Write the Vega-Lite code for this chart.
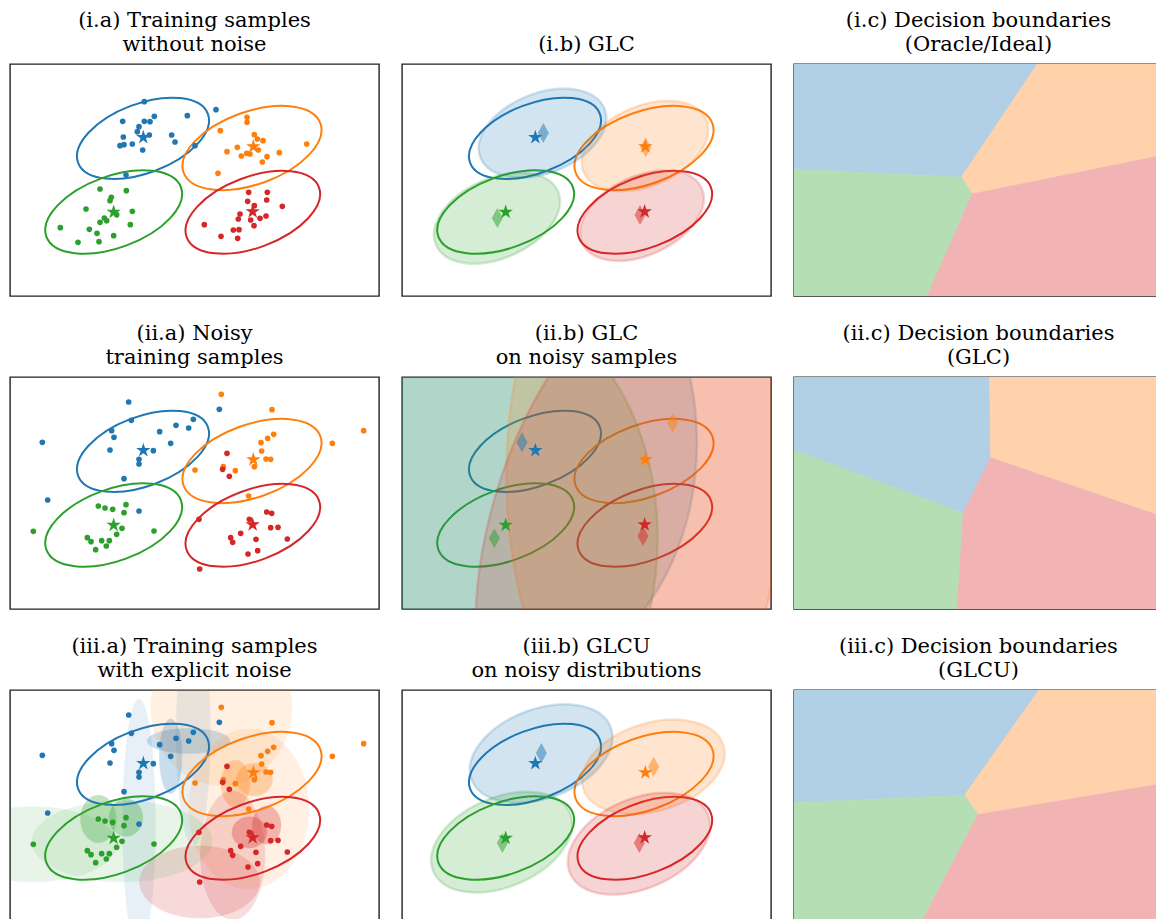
{
"$schema": "https://vega.github.io/schema/vega-lite/v6.json",
"padding": {"left": 9, "top": 9, "right": 0, "bottom": 0},
"columns": 3,
"spacing": {"row": 81, "column": 23},
"bounds": "flush",
"resolve": {"scale": {"color": "independent", "stroke": "independent", "size": "independent", "shape": "independent", "opacity": "independent", "angle": "independent", "x": "independent", "y": "independent"}},
"config": {
  "view": {"stroke": "#222222", "strokeWidth": 1.4, "fill": "white"},
  "title": {"font": "DejaVu Serif", "fontSize": 21, "fontWeight": "normal", "color": "#000000", "lineHeight": 24, "offset": 9, "anchor": "middle"},
  "legend": {"disable": true}
},
"datasets": {
  "truth": [
    {"cx": 3.99, "cy": 4.73, "a": 2.08, "shp": "r50", "ang": 20.7, "c": "1"},
    {"cx": 7.26, "cy": 4.44, "a": 2.18, "shp": "r50", "ang": 19.7, "c": "2"},
    {"cx": 3.11, "cy": 2.52, "a": 2.15, "shp": "r50", "ang": 20.1, "c": "3"},
    {"cx": 7.285, "cy": 2.51, "a": 2.12, "shp": "r50", "ang": 20.7, "c": "4"}
  ],
  "means": [
    {"x": 4.00, "y": 4.76, "c": "1"}, {"x": 7.30, "y": 4.48, "c": "2"}, {"x": 3.11, "y": 2.52, "c": "3"}, {"x": 7.28, "y": 2.53, "c": "4"}
  ],
  "est1": [
    {"cx": 4.215, "cy": 4.885, "a": 2.0, "shp": "r60", "ang": 21.4, "c": "1"},
    {"cx": 7.29, "cy": 4.50, "a": 2.0, "shp": "r60", "ang": 23.5, "c": "2"},
    {"cx": 2.85, "cy": 2.335, "a": 2.0, "shp": "r60", "ang": 24, "c": "3"},
    {"cx": 7.20, "cy": 2.41, "a": 1.97, "shp": "r60", "ang": 25, "c": "4"}
  ],
  "dia1": [
    {"x": 4.24, "y": 4.89, "c": "1"}, {"x": 7.31, "y": 4.46, "c": "2"}, {"x": 2.86, "y": 2.34, "c": "3"}, {"x": 7.14, "y": 2.43, "c": "4"}
  ],
  "est2": [
    {"cx": 3.60, "cy": 5.00, "a": 7.0, "shp": "r75", "ang": 90, "c": "1"},
    {"cx": 2.77, "cy": 2.12, "a": 7.0, "shp": "r70", "ang": 90, "c": "3"},
    {"cx": 7.28, "cy": 4.0, "a": 8.3, "shp": "r50", "ang": 90, "c": "2"},
    {"cx": 7.23, "cy": 2.19, "a": 8.35, "shp": "r55", "ang": 73, "c": "4"}
  ],
  "dia2": [
    {"x": 3.60, "y": 5.00, "c": "1"}, {"x": 8.12, "y": 5.59, "c": "2"}, {"x": 2.77, "y": 2.12, "c": "3"}, {"x": 7.23, "y": 2.19, "c": "4"}
  ],
  "est3": [
    {"cx": 4.175, "cy": 5.055, "a": 2.23, "shp": "r60", "ang": 20.5, "c": "1"},
    {"cx": 7.54, "cy": 4.655, "a": 2.2, "shp": "r60", "ang": 17, "c": "2"},
    {"cx": 2.99, "cy": 2.395, "a": 2.23, "shp": "r60", "ang": 23.2, "c": "3"},
    {"cx": 7.11, "cy": 2.35, "a": 2.25, "shp": "r60", "ang": 23.4, "c": "4"}
  ],
  "dia3": [
    {"x": 4.18, "y": 5.07, "c": "1"}, {"x": 7.55, "y": 4.66, "c": "2"}, {"x": 3.01, "y": 2.37, "c": "3"}, {"x": 7.12, "y": 2.37, "c": "4"}
  ],
  "noise": [
    {"cx": 3.87, "cy": 2.94, "a": 3.75, "shp": "r13", "ang": 90, "c": "1"},
    {"cx": 5.36, "cy": 5.43, "a": 1.24, "shp": "r30", "ang": 0, "c": "1"},
    {"cx": 4.82, "cy": 4.97, "a": 1.12, "shp": "r30", "ang": 90, "c": "1"},
    {"cx": 5.50, "cy": 5.69, "a": 3.4, "shp": "r15", "ang": 90, "c": "1"},
    {"cx": 6.34, "cy": 6.44, "a": 2.35, "shp": "r90", "ang": 90, "c": "2"},
    {"cx": 7.16, "cy": 3.39, "a": 2.4, "shp": "r75", "ang": 90, "c": "2"},
    {"cx": 7.33, "cy": 4.27, "a": 0.54, "shp": "r90", "ang": 0, "c": "2"},
    {"cx": 6.76, "cy": 4.15, "a": 0.71, "shp": "r60", "ang": 90, "c": "2"},
    {"cx": 7.18, "cy": 2.69, "a": 0.52, "shp": "r90", "ang": 0, "c": "4"},
    {"cx": 7.70, "cy": 2.91, "a": 0.57, "shp": "r75", "ang": 90, "c": "4"},
    {"cx": 5.69, "cy": 1.20, "a": 1.8, "shp": "r60", "ang": 0, "c": "4"},
    {"cx": 6.68, "cy": 2.00, "a": 1.93, "shp": "r50", "ang": 90, "c": "4"},
    {"cx": 0.70, "cy": 2.33, "a": 2.5, "shp": "r45", "ang": 0, "c": "3"},
    {"cx": 3.36, "cy": 2.42, "a": 2.7, "shp": "r45", "ang": 0, "c": "3"},
    {"cx": 2.65, "cy": 3.09, "a": 0.71, "shp": "r75", "ang": 90, "c": "3"},
    {"cx": 3.48, "cy": 3.13, "a": 0.56, "shp": "r90", "ang": 90, "c": "3"}
  ],
  "clean": [
    {"x": 4.03, "y": 5.83, "c": "1"}, {"x": 3.38, "y": 5.24, "c": "1"}, {"x": 4.03, "y": 5.24, "c": "1"}, {"x": 4.20, "y": 5.23, "c": "1"},
    {"x": 4.33, "y": 5.39, "c": "1"}, {"x": 5.32, "y": 5.41, "c": "1"}, {"x": 3.87, "y": 5.08, "c": "1"}, {"x": 3.82, "y": 4.93, "c": "1"},
    {"x": 3.40, "y": 4.77, "c": "1"}, {"x": 4.18, "y": 4.83, "c": "1"}, {"x": 4.85, "y": 4.83, "c": "1"}, {"x": 4.95, "y": 4.62, "c": "1"},
    {"x": 3.30, "y": 4.51, "c": "1"}, {"x": 3.42, "y": 4.54, "c": "1"}, {"x": 3.67, "y": 4.56, "c": "1"}, {"x": 3.98, "y": 4.38, "c": "1"},
    {"x": 5.55, "y": 4.51, "c": "1"}, {"x": 3.48, "y": 3.63, "c": "1"}, {"x": 6.18, "y": 5.59, "c": "1"},
    {"x": 7.11, "y": 5.36, "c": "2"}, {"x": 7.11, "y": 5.21, "c": "2"}, {"x": 6.31, "y": 4.96, "c": "2"}, {"x": 7.33, "y": 4.84, "c": "2"},
    {"x": 7.42, "y": 4.71, "c": "2"}, {"x": 7.59, "y": 4.66, "c": "2"}, {"x": 6.82, "y": 4.46, "c": "2"}, {"x": 6.51, "y": 4.33, "c": "2"},
    {"x": 8.90, "y": 4.56, "c": "2"}, {"x": 8.08, "y": 4.30, "c": "2"}, {"x": 7.71, "y": 4.18, "c": "2"}, {"x": 7.57, "y": 4.02, "c": "2"},
    {"x": 6.94, "y": 4.20, "c": "2"}, {"x": 7.10, "y": 4.28, "c": "2"}, {"x": 7.20, "y": 4.26, "c": "2"}, {"x": 7.45, "y": 4.38, "c": "2"},
    {"x": 6.24, "y": 3.68, "c": "2"},
    {"x": 2.70, "y": 3.21, "c": "3"}, {"x": 3.49, "y": 3.16, "c": "3"}, {"x": 3.04, "y": 2.96, "c": "3"}, {"x": 3.00, "y": 2.86, "c": "3"},
    {"x": 2.28, "y": 2.61, "c": "3"}, {"x": 3.67, "y": 2.54, "c": "3"}, {"x": 3.20, "y": 2.44, "c": "3"}, {"x": 2.70, "y": 2.21, "c": "3"},
    {"x": 2.83, "y": 2.34, "c": "3"}, {"x": 2.90, "y": 2.26, "c": "3"}, {"x": 1.51, "y": 2.05, "c": "3"}, {"x": 2.38, "y": 2.00, "c": "3"},
    {"x": 2.61, "y": 1.88, "c": "3"}, {"x": 3.61, "y": 2.14, "c": "3"}, {"x": 3.11, "y": 1.81, "c": "3"}, {"x": 2.04, "y": 1.61, "c": "3"},
    {"x": 2.67, "y": 1.63, "c": "3"},
    {"x": 7.16, "y": 3.11, "c": "4"}, {"x": 7.72, "y": 3.11, "c": "4"}, {"x": 7.13, "y": 2.84, "c": "4"}, {"x": 7.70, "y": 2.88, "c": "4"},
    {"x": 7.33, "y": 2.71, "c": "4"}, {"x": 8.17, "y": 2.69, "c": "4"}, {"x": 6.90, "y": 2.46, "c": "4"}, {"x": 6.85, "y": 2.31, "c": "4"},
    {"x": 7.68, "y": 2.40, "c": "4"}, {"x": 7.50, "y": 2.33, "c": "4"}, {"x": 7.22, "y": 2.28, "c": "4"}, {"x": 7.32, "y": 2.11, "c": "4"},
    {"x": 5.83, "y": 2.14, "c": "4"}, {"x": 6.70, "y": 1.98, "c": "4"}, {"x": 6.87, "y": 1.99, "c": "4"}, {"x": 6.83, "y": 1.73, "c": "4"},
    {"x": 6.33, "y": 1.79, "c": "4"}
  ],
  "noisy": [
    {"x": 3.56, "y": 6.21, "c": "1"}, {"x": 6.28, "y": 5.99, "c": "1"}, {"x": 5.50, "y": 5.69, "c": "1"}, {"x": 4.98, "y": 5.51, "c": "1"},
    {"x": 5.36, "y": 5.43, "c": "1"}, {"x": 3.64, "y": 5.66, "c": "1"}, {"x": 3.05, "y": 5.35, "c": "1"}, {"x": 3.12, "y": 5.15, "c": "1"},
    {"x": 4.49, "y": 5.32, "c": "1"}, {"x": 4.82, "y": 4.97, "c": "1"}, {"x": 0.97, "y": 5.00, "c": "1"}, {"x": 3.00, "y": 4.77, "c": "1"},
    {"x": 4.30, "y": 4.75, "c": "1"}, {"x": 3.87, "y": 4.49, "c": "1"}, {"x": 3.87, "y": 4.35, "c": "1"}, {"x": 3.42, "y": 3.91, "c": "1"},
    {"x": 1.13, "y": 3.27, "c": "1"}, {"x": 3.87, "y": 2.94, "c": "1"},
    {"x": 6.34, "y": 6.44, "c": "2"}, {"x": 7.86, "y": 5.98, "c": "2"}, {"x": 7.91, "y": 5.24, "c": "2"}, {"x": 7.73, "y": 5.12, "c": "2"},
    {"x": 7.53, "y": 4.99, "c": "2"}, {"x": 7.55, "y": 4.74, "c": "2"}, {"x": 10.61, "y": 5.35, "c": "2"}, {"x": 9.67, "y": 4.97, "c": "2"},
    {"x": 7.68, "y": 4.50, "c": "2"}, {"x": 7.82, "y": 4.49, "c": "2"}, {"x": 7.33, "y": 4.27, "c": "2"}, {"x": 6.76, "y": 4.15, "c": "2"},
    {"x": 5.55, "y": 4.17, "c": "2"}, {"x": 6.40, "y": 4.27, "c": "2"}, {"x": 7.16, "y": 3.39, "c": "2"},
    {"x": 6.51, "y": 4.67, "c": "4"}, {"x": 6.38, "y": 4.19, "c": "4"}, {"x": 6.58, "y": 3.98, "c": "4"}, {"x": 7.70, "y": 2.91, "c": "4"},
    {"x": 7.85, "y": 2.87, "c": "4"}, {"x": 7.18, "y": 2.69, "c": "4"}, {"x": 5.67, "y": 2.69, "c": "4"}, {"x": 7.82, "y": 2.44, "c": "4"},
    {"x": 8.04, "y": 2.45, "c": "4"}, {"x": 6.92, "y": 2.27, "c": "4"}, {"x": 6.62, "y": 2.14, "c": "4"}, {"x": 6.68, "y": 2.00, "c": "4"},
    {"x": 7.38, "y": 2.09, "c": "4"}, {"x": 8.32, "y": 2.10, "c": "4"}, {"x": 7.43, "y": 1.75, "c": "4"}, {"x": 7.14, "y": 1.65, "c": "4"},
    {"x": 5.69, "y": 1.20, "c": "4"},
    {"x": 2.65, "y": 3.09, "c": "3"}, {"x": 2.85, "y": 3.03, "c": "3"}, {"x": 3.08, "y": 2.99, "c": "3"}, {"x": 3.48, "y": 3.13, "c": "3"},
    {"x": 3.42, "y": 2.89, "c": "3"}, {"x": 3.36, "y": 2.42, "c": "3"}, {"x": 3.20, "y": 2.24, "c": "3"}, {"x": 0.70, "y": 2.33, "c": "3"},
    {"x": 4.32, "y": 2.34, "c": "3"}, {"x": 2.32, "y": 2.14, "c": "3"}, {"x": 2.43, "y": 2.02, "c": "3"}, {"x": 2.75, "y": 2.05, "c": "3"},
    {"x": 2.98, "y": 2.05, "c": "3"}, {"x": 2.89, "y": 1.89, "c": "3"}, {"x": 2.57, "y": 1.78, "c": "3"}
  ],
  "reg1": [
    {"r": "1", "x": 0, "lo": 3.81, "hi": 6.96}, {"r": "1", "x": 5.02, "lo": 3.56, "hi": 6.96}, {"r": "1", "x": 7.30, "lo": 6.96, "hi": 6.96},
    {"r": "2", "x": 5.02, "lo": 3.56, "hi": 3.56}, {"r": "2", "x": 5.35, "lo": 3.06, "hi": 4.05}, {"r": "2", "x": 7.30, "lo": 3.455, "hi": 6.96}, {"r": "2", "x": 11.07, "lo": 4.22, "hi": 6.96},
    {"r": "3", "x": 0, "lo": 0, "hi": 3.81}, {"r": "3", "x": 4.00, "lo": 0, "hi": 3.61}, {"r": "3", "x": 5.02, "lo": 2.31, "hi": 3.56}, {"r": "3", "x": 5.35, "lo": 3.06, "hi": 3.06},
    {"r": "4", "x": 4.00, "lo": 0, "hi": 0}, {"r": "4", "x": 5.35, "lo": 0, "hi": 3.06}, {"r": "4", "x": 11.07, "lo": 0, "hi": 4.22}
  ],
  "reg2": [
    {"r": "1", "x": 0, "lo": 4.77, "hi": 6.96}, {"r": "1", "x": 5.08, "lo": 2.87, "hi": 6.96}, {"r": "1", "x": 5.87, "lo": 4.48, "hi": 6.96}, {"r": "1", "x": 5.90, "lo": 4.54, "hi": 4.54},
    {"r": "2", "x": 5.87, "lo": 6.96, "hi": 6.96}, {"r": "2", "x": 5.90, "lo": 4.54, "hi": 6.96}, {"r": "2", "x": 11.07, "lo": 2.76, "hi": 6.96},
    {"r": "3", "x": 0, "lo": 0, "hi": 4.77}, {"r": "3", "x": 4.90, "lo": 0, "hi": 2.94}, {"r": "3", "x": 5.08, "lo": 2.87, "hi": 2.87},
    {"r": "4", "x": 4.90, "lo": 0, "hi": 0}, {"r": "4", "x": 5.08, "lo": 0, "hi": 2.87}, {"r": "4", "x": 5.90, "lo": 0, "hi": 4.54}, {"r": "4", "x": 11.07, "lo": 0, "hi": 2.76}
  ],
  "reg3": [
    {"r": "1", "x": 0, "lo": 3.58, "hi": 6.96}, {"r": "1", "x": 5.12, "lo": 3.80, "hi": 6.96}, {"r": "1", "x": 7.35, "lo": 6.96, "hi": 6.96},
    {"r": "2", "x": 5.12, "lo": 3.80, "hi": 3.80}, {"r": "2", "x": 5.52, "lo": 3.22, "hi": 4.37}, {"r": "2", "x": 7.35, "lo": 3.53, "hi": 6.96}, {"r": "2", "x": 11.07, "lo": 4.15, "hi": 6.96},
    {"r": "3", "x": 0, "lo": 0, "hi": 3.58}, {"r": "3", "x": 3.83, "lo": 0, "hi": 3.745}, {"r": "3", "x": 5.12, "lo": 2.46, "hi": 3.80}, {"r": "3", "x": 5.52, "lo": 3.22, "hi": 3.22},
    {"r": "4", "x": 3.83, "lo": 0, "hi": 0}, {"r": "4", "x": 5.52, "lo": 0, "hi": 3.22}, {"r": "4", "x": 11.07, "lo": 0, "hi": 4.15}
  ]
},
"concat": [
  {
    "title": {"text": ["(i.a) Training samples", "without noise"]},
    "width": 369, "height": 232,
    "layer": [
      {"data": {"name": "truth"}, "mark": {"type": "point", "filled": false, "strokeWidth": 2, "opacity": 1, "clip": true},
       "encoding": {
        "x": {"field": "cx", "type": "quantitative", "scale": {"domain": [0, 11.07], "nice": false, "zero": false}, "axis": null},
        "y": {"field": "cy", "type": "quantitative", "scale": {"domain": [0, 6.96], "nice": false, "zero": false}, "axis": null},
        "size": {"field": "a", "type": "quantitative", "scale": {"type": "pow", "exponent": 2, "domain": [0, 1], "range": [0, 4444.4], "clamp": false}, "legend": null},
        "shape": {"field": "shp", "type": "nominal", "legend": null, "scale": {"domain": ["r13","r15","r30","r45","r50","r55","r60","r70","r75","r90"], "range": ["M-1,0C-1,-0.0718,-0.5523,-0.13,0,-0.13C0.5523,-0.13,1,-0.0718,1,0C1,0.0718,0.5523,0.13,0,0.13C-0.5523,0.13,-1,0.0718,-1,0Z","M-1,0C-1,-0.0828,-0.5523,-0.15,0,-0.15C0.5523,-0.15,1,-0.0828,1,0C1,0.0828,0.5523,0.15,0,0.15C-0.5523,0.15,-1,0.0828,-1,0Z","M-1,0C-1,-0.1657,-0.5523,-0.3,0,-0.3C0.5523,-0.3,1,-0.1657,1,0C1,0.1657,0.5523,0.3,0,0.3C-0.5523,0.3,-1,0.1657,-1,0Z","M-1,0C-1,-0.2485,-0.5523,-0.45,0,-0.45C0.5523,-0.45,1,-0.2485,1,0C1,0.2485,0.5523,0.45,0,0.45C-0.5523,0.45,-1,0.2485,-1,0Z","M-1,0C-1,-0.2762,-0.5523,-0.5,0,-0.5C0.5523,-0.5,1,-0.2762,1,0C1,0.2762,0.5523,0.5,0,0.5C-0.5523,0.5,-1,0.2762,-1,0Z","M-1,0C-1,-0.3038,-0.5523,-0.55,0,-0.55C0.5523,-0.55,1,-0.3038,1,0C1,0.3038,0.5523,0.55,0,0.55C-0.5523,0.55,-1,0.3038,-1,0Z","M-1,0C-1,-0.3314,-0.5523,-0.6,0,-0.6C0.5523,-0.6,1,-0.3314,1,0C1,0.3314,0.5523,0.6,0,0.6C-0.5523,0.6,-1,0.3314,-1,0Z","M-1,0C-1,-0.3866,-0.5523,-0.7,0,-0.7C0.5523,-0.7,1,-0.3866,1,0C1,0.3866,0.5523,0.7,0,0.7C-0.5523,0.7,-1,0.3866,-1,0Z","M-1,0C-1,-0.4142,-0.5523,-0.75,0,-0.75C0.5523,-0.75,1,-0.4142,1,0C1,0.4142,0.5523,0.75,0,0.75C-0.5523,0.75,-1,0.4142,-1,0Z","M-1,0C-1,-0.4971,-0.5523,-0.9,0,-0.9C0.5523,-0.9,1,-0.4971,1,0C1,0.4971,0.5523,0.9,0,0.9C-0.5523,0.9,-1,0.4971,-1,0Z"]}},
        "angle": {"field": "ang", "type": "quantitative", "scale": {"domain": [-180, 180], "range": [180, -180]}},
        "color": {"field": "c", "type": "nominal", "legend": null, "scale": {"domain": ["1","2","3","4"], "range": ["#1f77b4","#ff7f0e","#2ca02c","#d62728"]}}
       }},
      {"data": {"name": "clean"}, "mark": {"type": "circle", "size": 32, "opacity": 1},
       "encoding": {
        "x": {"field": "x", "type": "quantitative", "scale": {"domain": [0, 11.07], "nice": false, "zero": false}, "axis": null},
        "y": {"field": "y", "type": "quantitative", "scale": {"domain": [0, 6.96], "nice": false, "zero": false}, "axis": null},
        "color": {"field": "c", "type": "nominal", "legend": null, "scale": {"domain": ["1","2","3","4"], "range": ["#1f77b4","#ff7f0e","#2ca02c","#d62728"]}}
       }},
      {"data": {"name": "means"}, "mark": {"type": "point", "shape": "M0,-1L0.2245,-0.309L0.951,-0.309L0.363,0.118L0.588,0.809L0,0.382L-0.588,0.809L-0.363,0.118L-0.951,-0.309L-0.2245,-0.309Z", "filled": true, "size": 230, "opacity": 1, "strokeWidth": 0},
       "encoding": {
        "x": {"field": "x", "type": "quantitative", "scale": {"domain": [0, 11.07], "nice": false, "zero": false}, "axis": null},
        "y": {"field": "y", "type": "quantitative", "scale": {"domain": [0, 6.96], "nice": false, "zero": false}, "axis": null},
        "color": {"field": "c", "type": "nominal", "legend": null, "scale": {"domain": ["1","2","3","4"], "range": ["#1f77b4","#ff7f0e","#2ca02c","#d62728"]}}
       }}
    ]
  },
  {
    "title": {"text": "(i.b) GLC"},
    "width": 369, "height": 232,
    "layer": [
      {"data": {"name": "truth"}, "mark": {"type": "point", "filled": false, "strokeWidth": 2, "opacity": 1, "clip": true},
       "encoding": {
        "x": {"field": "cx", "type": "quantitative", "scale": {"domain": [0, 11.07], "nice": false, "zero": false}, "axis": null},
        "y": {"field": "cy", "type": "quantitative", "scale": {"domain": [0, 6.96], "nice": false, "zero": false}, "axis": null},
        "size": {"field": "a", "type": "quantitative", "scale": {"type": "pow", "exponent": 2, "domain": [0, 1], "range": [0, 4444.4], "clamp": false}, "legend": null},
        "shape": {"field": "shp", "type": "nominal", "legend": null, "scale": {"domain": ["r13","r15","r30","r45","r50","r55","r60","r70","r75","r90"], "range": ["M-1,0C-1,-0.0718,-0.5523,-0.13,0,-0.13C0.5523,-0.13,1,-0.0718,1,0C1,0.0718,0.5523,0.13,0,0.13C-0.5523,0.13,-1,0.0718,-1,0Z","M-1,0C-1,-0.0828,-0.5523,-0.15,0,-0.15C0.5523,-0.15,1,-0.0828,1,0C1,0.0828,0.5523,0.15,0,0.15C-0.5523,0.15,-1,0.0828,-1,0Z","M-1,0C-1,-0.1657,-0.5523,-0.3,0,-0.3C0.5523,-0.3,1,-0.1657,1,0C1,0.1657,0.5523,0.3,0,0.3C-0.5523,0.3,-1,0.1657,-1,0Z","M-1,0C-1,-0.2485,-0.5523,-0.45,0,-0.45C0.5523,-0.45,1,-0.2485,1,0C1,0.2485,0.5523,0.45,0,0.45C-0.5523,0.45,-1,0.2485,-1,0Z","M-1,0C-1,-0.2762,-0.5523,-0.5,0,-0.5C0.5523,-0.5,1,-0.2762,1,0C1,0.2762,0.5523,0.5,0,0.5C-0.5523,0.5,-1,0.2762,-1,0Z","M-1,0C-1,-0.3038,-0.5523,-0.55,0,-0.55C0.5523,-0.55,1,-0.3038,1,0C1,0.3038,0.5523,0.55,0,0.55C-0.5523,0.55,-1,0.3038,-1,0Z","M-1,0C-1,-0.3314,-0.5523,-0.6,0,-0.6C0.5523,-0.6,1,-0.3314,1,0C1,0.3314,0.5523,0.6,0,0.6C-0.5523,0.6,-1,0.3314,-1,0Z","M-1,0C-1,-0.3866,-0.5523,-0.7,0,-0.7C0.5523,-0.7,1,-0.3866,1,0C1,0.3866,0.5523,0.7,0,0.7C-0.5523,0.7,-1,0.3866,-1,0Z","M-1,0C-1,-0.4142,-0.5523,-0.75,0,-0.75C0.5523,-0.75,1,-0.4142,1,0C1,0.4142,0.5523,0.75,0,0.75C-0.5523,0.75,-1,0.4142,-1,0Z","M-1,0C-1,-0.4971,-0.5523,-0.9,0,-0.9C0.5523,-0.9,1,-0.4971,1,0C1,0.4971,0.5523,0.9,0,0.9C-0.5523,0.9,-1,0.4971,-1,0Z"]}},
        "angle": {"field": "ang", "type": "quantitative", "scale": {"domain": [-180, 180], "range": [180, -180]}},
        "color": {"field": "c", "type": "nominal", "legend": null, "scale": {"domain": ["1","2","3","4"], "range": ["#1f77b4","#ff7f0e","#2ca02c","#d62728"]}}
       }},
      {"data": {"name": "est1"}, "mark": {"type": "point", "filled": true, "opacity": 1, "fillOpacity": 0.2, "strokeOpacity": 0.2, "strokeWidth": 2.5, "clip": true},
       "encoding": {
        "x": {"field": "cx", "type": "quantitative", "scale": {"domain": [0, 11.07], "nice": false, "zero": false}, "axis": null},
        "y": {"field": "cy", "type": "quantitative", "scale": {"domain": [0, 6.96], "nice": false, "zero": false}, "axis": null},
        "size": {"field": "a", "type": "quantitative", "scale": {"type": "pow", "exponent": 2, "domain": [0, 1], "range": [0, 4444.4], "clamp": false}, "legend": null},
        "shape": {"field": "shp", "type": "nominal", "legend": null, "scale": {"domain": ["r13","r15","r30","r45","r50","r55","r60","r70","r75","r90"], "range": ["M-1,0C-1,-0.0718,-0.5523,-0.13,0,-0.13C0.5523,-0.13,1,-0.0718,1,0C1,0.0718,0.5523,0.13,0,0.13C-0.5523,0.13,-1,0.0718,-1,0Z","M-1,0C-1,-0.0828,-0.5523,-0.15,0,-0.15C0.5523,-0.15,1,-0.0828,1,0C1,0.0828,0.5523,0.15,0,0.15C-0.5523,0.15,-1,0.0828,-1,0Z","M-1,0C-1,-0.1657,-0.5523,-0.3,0,-0.3C0.5523,-0.3,1,-0.1657,1,0C1,0.1657,0.5523,0.3,0,0.3C-0.5523,0.3,-1,0.1657,-1,0Z","M-1,0C-1,-0.2485,-0.5523,-0.45,0,-0.45C0.5523,-0.45,1,-0.2485,1,0C1,0.2485,0.5523,0.45,0,0.45C-0.5523,0.45,-1,0.2485,-1,0Z","M-1,0C-1,-0.2762,-0.5523,-0.5,0,-0.5C0.5523,-0.5,1,-0.2762,1,0C1,0.2762,0.5523,0.5,0,0.5C-0.5523,0.5,-1,0.2762,-1,0Z","M-1,0C-1,-0.3038,-0.5523,-0.55,0,-0.55C0.5523,-0.55,1,-0.3038,1,0C1,0.3038,0.5523,0.55,0,0.55C-0.5523,0.55,-1,0.3038,-1,0Z","M-1,0C-1,-0.3314,-0.5523,-0.6,0,-0.6C0.5523,-0.6,1,-0.3314,1,0C1,0.3314,0.5523,0.6,0,0.6C-0.5523,0.6,-1,0.3314,-1,0Z","M-1,0C-1,-0.3866,-0.5523,-0.7,0,-0.7C0.5523,-0.7,1,-0.3866,1,0C1,0.3866,0.5523,0.7,0,0.7C-0.5523,0.7,-1,0.3866,-1,0Z","M-1,0C-1,-0.4142,-0.5523,-0.75,0,-0.75C0.5523,-0.75,1,-0.4142,1,0C1,0.4142,0.5523,0.75,0,0.75C-0.5523,0.75,-1,0.4142,-1,0Z","M-1,0C-1,-0.4971,-0.5523,-0.9,0,-0.9C0.5523,-0.9,1,-0.4971,1,0C1,0.4971,0.5523,0.9,0,0.9C-0.5523,0.9,-1,0.4971,-1,0Z"]}},
        "angle": {"field": "ang", "type": "quantitative", "scale": {"domain": [-180, 180], "range": [180, -180]}},
        "color": {"field": "c", "type": "nominal", "legend": null, "scale": {"domain": ["1","2","3","4"], "range": ["#1f77b4","#ff7f0e","#2ca02c","#d62728"]}},
        "stroke": {"field": "c", "type": "nominal", "legend": null, "scale": {"domain": ["1","2","3","4"], "range": ["#1f77b4","#ff7f0e","#2ca02c","#d62728"]}}
       }},
      {"data": {"name": "dia1"}, "mark": {"type": "point", "shape": "M0,-1L0.55,0L0,1L-0.55,0Z", "filled": true, "size": 400, "opacity": 0.5},
       "encoding": {
        "x": {"field": "x", "type": "quantitative", "scale": {"domain": [0, 11.07], "nice": false, "zero": false}, "axis": null},
        "y": {"field": "y", "type": "quantitative", "scale": {"domain": [0, 6.96], "nice": false, "zero": false}, "axis": null},
        "color": {"field": "c", "type": "nominal", "legend": null, "scale": {"domain": ["1","2","3","4"], "range": ["#1f77b4","#ff7f0e","#2ca02c","#d62728"]}}
       }},
      {"data": {"name": "means"}, "mark": {"type": "point", "shape": "M0,-1L0.2245,-0.309L0.951,-0.309L0.363,0.118L0.588,0.809L0,0.382L-0.588,0.809L-0.363,0.118L-0.951,-0.309L-0.2245,-0.309Z", "filled": true, "size": 230, "opacity": 1, "strokeWidth": 0},
       "encoding": {
        "x": {"field": "x", "type": "quantitative", "scale": {"domain": [0, 11.07], "nice": false, "zero": false}, "axis": null},
        "y": {"field": "y", "type": "quantitative", "scale": {"domain": [0, 6.96], "nice": false, "zero": false}, "axis": null},
        "color": {"field": "c", "type": "nominal", "legend": null, "scale": {"domain": ["1","2","3","4"], "range": ["#1f77b4","#ff7f0e","#2ca02c","#d62728"]}}
       }}
    ]
  },
  {
    "title": {"text": ["(i.c) Decision boundaries", "(Oracle/Ideal)"]},
    "width": 369, "height": 232,
    "layer": [
      {"data": {"name": "reg1"}, "mark": {"type": "area", "opacity": 1, "strokeWidth": 0.8, "clip": true},
       "encoding": {
        "x": {"field": "x", "type": "quantitative", "scale": {"domain": [0, 11.07], "nice": false, "zero": false}, "axis": null},
        "y": {"field": "lo", "type": "quantitative", "stack": null, "scale": {"domain": [0, 6.96], "nice": false, "zero": false}, "axis": null},
        "y2": {"field": "hi"},
        "color": {"field": "r", "type": "nominal", "legend": null, "scale": {"domain": ["1","2","3","4"], "range": ["#b1cfe5","#ffd2ab","#b5deb5","#f1b3b4"]}},
        "stroke": {"field": "r", "type": "nominal", "legend": null, "scale": {"domain": ["1","2","3","4"], "range": ["#b1cfe5","#ffd2ab","#b5deb5","#f1b3b4"]}}
       }}
    ]
  },
  {
    "title": {"text": ["(ii.a) Noisy", "training samples"]},
    "width": 369, "height": 232,
    "layer": [
      {"data": {"name": "truth"}, "mark": {"type": "point", "filled": false, "strokeWidth": 2, "opacity": 1, "clip": true},
       "encoding": {
        "x": {"field": "cx", "type": "quantitative", "scale": {"domain": [0, 11.07], "nice": false, "zero": false}, "axis": null},
        "y": {"field": "cy", "type": "quantitative", "scale": {"domain": [0, 6.96], "nice": false, "zero": false}, "axis": null},
        "size": {"field": "a", "type": "quantitative", "scale": {"type": "pow", "exponent": 2, "domain": [0, 1], "range": [0, 4444.4], "clamp": false}, "legend": null},
        "shape": {"field": "shp", "type": "nominal", "legend": null, "scale": {"domain": ["r13","r15","r30","r45","r50","r55","r60","r70","r75","r90"], "range": ["M-1,0C-1,-0.0718,-0.5523,-0.13,0,-0.13C0.5523,-0.13,1,-0.0718,1,0C1,0.0718,0.5523,0.13,0,0.13C-0.5523,0.13,-1,0.0718,-1,0Z","M-1,0C-1,-0.0828,-0.5523,-0.15,0,-0.15C0.5523,-0.15,1,-0.0828,1,0C1,0.0828,0.5523,0.15,0,0.15C-0.5523,0.15,-1,0.0828,-1,0Z","M-1,0C-1,-0.1657,-0.5523,-0.3,0,-0.3C0.5523,-0.3,1,-0.1657,1,0C1,0.1657,0.5523,0.3,0,0.3C-0.5523,0.3,-1,0.1657,-1,0Z","M-1,0C-1,-0.2485,-0.5523,-0.45,0,-0.45C0.5523,-0.45,1,-0.2485,1,0C1,0.2485,0.5523,0.45,0,0.45C-0.5523,0.45,-1,0.2485,-1,0Z","M-1,0C-1,-0.2762,-0.5523,-0.5,0,-0.5C0.5523,-0.5,1,-0.2762,1,0C1,0.2762,0.5523,0.5,0,0.5C-0.5523,0.5,-1,0.2762,-1,0Z","M-1,0C-1,-0.3038,-0.5523,-0.55,0,-0.55C0.5523,-0.55,1,-0.3038,1,0C1,0.3038,0.5523,0.55,0,0.55C-0.5523,0.55,-1,0.3038,-1,0Z","M-1,0C-1,-0.3314,-0.5523,-0.6,0,-0.6C0.5523,-0.6,1,-0.3314,1,0C1,0.3314,0.5523,0.6,0,0.6C-0.5523,0.6,-1,0.3314,-1,0Z","M-1,0C-1,-0.3866,-0.5523,-0.7,0,-0.7C0.5523,-0.7,1,-0.3866,1,0C1,0.3866,0.5523,0.7,0,0.7C-0.5523,0.7,-1,0.3866,-1,0Z","M-1,0C-1,-0.4142,-0.5523,-0.75,0,-0.75C0.5523,-0.75,1,-0.4142,1,0C1,0.4142,0.5523,0.75,0,0.75C-0.5523,0.75,-1,0.4142,-1,0Z","M-1,0C-1,-0.4971,-0.5523,-0.9,0,-0.9C0.5523,-0.9,1,-0.4971,1,0C1,0.4971,0.5523,0.9,0,0.9C-0.5523,0.9,-1,0.4971,-1,0Z"]}},
        "angle": {"field": "ang", "type": "quantitative", "scale": {"domain": [-180, 180], "range": [180, -180]}},
        "color": {"field": "c", "type": "nominal", "legend": null, "scale": {"domain": ["1","2","3","4"], "range": ["#1f77b4","#ff7f0e","#2ca02c","#d62728"]}}
       }},
      {"data": {"name": "noisy"}, "mark": {"type": "circle", "size": 32, "opacity": 1},
       "encoding": {
        "x": {"field": "x", "type": "quantitative", "scale": {"domain": [0, 11.07], "nice": false, "zero": false}, "axis": null},
        "y": {"field": "y", "type": "quantitative", "scale": {"domain": [0, 6.96], "nice": false, "zero": false}, "axis": null},
        "color": {"field": "c", "type": "nominal", "legend": null, "scale": {"domain": ["1","2","3","4"], "range": ["#1f77b4","#ff7f0e","#2ca02c","#d62728"]}}
       }},
      {"data": {"name": "means"}, "mark": {"type": "point", "shape": "M0,-1L0.2245,-0.309L0.951,-0.309L0.363,0.118L0.588,0.809L0,0.382L-0.588,0.809L-0.363,0.118L-0.951,-0.309L-0.2245,-0.309Z", "filled": true, "size": 230, "opacity": 1, "strokeWidth": 0},
       "encoding": {
        "x": {"field": "x", "type": "quantitative", "scale": {"domain": [0, 11.07], "nice": false, "zero": false}, "axis": null},
        "y": {"field": "y", "type": "quantitative", "scale": {"domain": [0, 6.96], "nice": false, "zero": false}, "axis": null},
        "color": {"field": "c", "type": "nominal", "legend": null, "scale": {"domain": ["1","2","3","4"], "range": ["#1f77b4","#ff7f0e","#2ca02c","#d62728"]}}
       }}
    ]
  },
  {
    "title": {"text": ["(ii.b) GLC", "on noisy samples"]},
    "width": 369, "height": 232,
    "layer": [
      {"data": {"name": "truth"}, "mark": {"type": "point", "filled": false, "strokeWidth": 2, "opacity": 1, "clip": true},
       "encoding": {
        "x": {"field": "cx", "type": "quantitative", "scale": {"domain": [0, 11.07], "nice": false, "zero": false}, "axis": null},
        "y": {"field": "cy", "type": "quantitative", "scale": {"domain": [0, 6.96], "nice": false, "zero": false}, "axis": null},
        "size": {"field": "a", "type": "quantitative", "scale": {"type": "pow", "exponent": 2, "domain": [0, 1], "range": [0, 4444.4], "clamp": false}, "legend": null},
        "shape": {"field": "shp", "type": "nominal", "legend": null, "scale": {"domain": ["r13","r15","r30","r45","r50","r55","r60","r70","r75","r90"], "range": ["M-1,0C-1,-0.0718,-0.5523,-0.13,0,-0.13C0.5523,-0.13,1,-0.0718,1,0C1,0.0718,0.5523,0.13,0,0.13C-0.5523,0.13,-1,0.0718,-1,0Z","M-1,0C-1,-0.0828,-0.5523,-0.15,0,-0.15C0.5523,-0.15,1,-0.0828,1,0C1,0.0828,0.5523,0.15,0,0.15C-0.5523,0.15,-1,0.0828,-1,0Z","M-1,0C-1,-0.1657,-0.5523,-0.3,0,-0.3C0.5523,-0.3,1,-0.1657,1,0C1,0.1657,0.5523,0.3,0,0.3C-0.5523,0.3,-1,0.1657,-1,0Z","M-1,0C-1,-0.2485,-0.5523,-0.45,0,-0.45C0.5523,-0.45,1,-0.2485,1,0C1,0.2485,0.5523,0.45,0,0.45C-0.5523,0.45,-1,0.2485,-1,0Z","M-1,0C-1,-0.2762,-0.5523,-0.5,0,-0.5C0.5523,-0.5,1,-0.2762,1,0C1,0.2762,0.5523,0.5,0,0.5C-0.5523,0.5,-1,0.2762,-1,0Z","M-1,0C-1,-0.3038,-0.5523,-0.55,0,-0.55C0.5523,-0.55,1,-0.3038,1,0C1,0.3038,0.5523,0.55,0,0.55C-0.5523,0.55,-1,0.3038,-1,0Z","M-1,0C-1,-0.3314,-0.5523,-0.6,0,-0.6C0.5523,-0.6,1,-0.3314,1,0C1,0.3314,0.5523,0.6,0,0.6C-0.5523,0.6,-1,0.3314,-1,0Z","M-1,0C-1,-0.3866,-0.5523,-0.7,0,-0.7C0.5523,-0.7,1,-0.3866,1,0C1,0.3866,0.5523,0.7,0,0.7C-0.5523,0.7,-1,0.3866,-1,0Z","M-1,0C-1,-0.4142,-0.5523,-0.75,0,-0.75C0.5523,-0.75,1,-0.4142,1,0C1,0.4142,0.5523,0.75,0,0.75C-0.5523,0.75,-1,0.4142,-1,0Z","M-1,0C-1,-0.4971,-0.5523,-0.9,0,-0.9C0.5523,-0.9,1,-0.4971,1,0C1,0.4971,0.5523,0.9,0,0.9C-0.5523,0.9,-1,0.4971,-1,0Z"]}},
        "angle": {"field": "ang", "type": "quantitative", "scale": {"domain": [-180, 180], "range": [180, -180]}},
        "color": {"field": "c", "type": "nominal", "legend": null, "scale": {"domain": ["1","2","3","4"], "range": ["#1f77b4","#ff7f0e","#2ca02c","#d62728"]}}
       }},
      {"data": {"name": "est2"}, "mark": {"type": "point", "filled": true, "opacity": 1, "fillOpacity": 0.2, "strokeOpacity": 0.2, "strokeWidth": 2.5, "clip": true},
       "encoding": {
        "x": {"field": "cx", "type": "quantitative", "scale": {"domain": [0, 11.07], "nice": false, "zero": false}, "axis": null},
        "y": {"field": "cy", "type": "quantitative", "scale": {"domain": [0, 6.96], "nice": false, "zero": false}, "axis": null},
        "size": {"field": "a", "type": "quantitative", "scale": {"type": "pow", "exponent": 2, "domain": [0, 1], "range": [0, 4444.4], "clamp": false}, "legend": null},
        "shape": {"field": "shp", "type": "nominal", "legend": null, "scale": {"domain": ["r13","r15","r30","r45","r50","r55","r60","r70","r75","r90"], "range": ["M-1,0C-1,-0.0718,-0.5523,-0.13,0,-0.13C0.5523,-0.13,1,-0.0718,1,0C1,0.0718,0.5523,0.13,0,0.13C-0.5523,0.13,-1,0.0718,-1,0Z","M-1,0C-1,-0.0828,-0.5523,-0.15,0,-0.15C0.5523,-0.15,1,-0.0828,1,0C1,0.0828,0.5523,0.15,0,0.15C-0.5523,0.15,-1,0.0828,-1,0Z","M-1,0C-1,-0.1657,-0.5523,-0.3,0,-0.3C0.5523,-0.3,1,-0.1657,1,0C1,0.1657,0.5523,0.3,0,0.3C-0.5523,0.3,-1,0.1657,-1,0Z","M-1,0C-1,-0.2485,-0.5523,-0.45,0,-0.45C0.5523,-0.45,1,-0.2485,1,0C1,0.2485,0.5523,0.45,0,0.45C-0.5523,0.45,-1,0.2485,-1,0Z","M-1,0C-1,-0.2762,-0.5523,-0.5,0,-0.5C0.5523,-0.5,1,-0.2762,1,0C1,0.2762,0.5523,0.5,0,0.5C-0.5523,0.5,-1,0.2762,-1,0Z","M-1,0C-1,-0.3038,-0.5523,-0.55,0,-0.55C0.5523,-0.55,1,-0.3038,1,0C1,0.3038,0.5523,0.55,0,0.55C-0.5523,0.55,-1,0.3038,-1,0Z","M-1,0C-1,-0.3314,-0.5523,-0.6,0,-0.6C0.5523,-0.6,1,-0.3314,1,0C1,0.3314,0.5523,0.6,0,0.6C-0.5523,0.6,-1,0.3314,-1,0Z","M-1,0C-1,-0.3866,-0.5523,-0.7,0,-0.7C0.5523,-0.7,1,-0.3866,1,0C1,0.3866,0.5523,0.7,0,0.7C-0.5523,0.7,-1,0.3866,-1,0Z","M-1,0C-1,-0.4142,-0.5523,-0.75,0,-0.75C0.5523,-0.75,1,-0.4142,1,0C1,0.4142,0.5523,0.75,0,0.75C-0.5523,0.75,-1,0.4142,-1,0Z","M-1,0C-1,-0.4971,-0.5523,-0.9,0,-0.9C0.5523,-0.9,1,-0.4971,1,0C1,0.4971,0.5523,0.9,0,0.9C-0.5523,0.9,-1,0.4971,-1,0Z"]}},
        "angle": {"field": "ang", "type": "quantitative", "scale": {"domain": [-180, 180], "range": [180, -180]}},
        "color": {"field": "c", "type": "nominal", "legend": null, "scale": {"domain": ["1","2","3","4"], "range": ["#1f77b4","#ff7f0e","#2ca02c","#d62728"]}},
        "stroke": {"field": "c", "type": "nominal", "legend": null, "scale": {"domain": ["1","2","3","4"], "range": ["#1f77b4","#ff7f0e","#2ca02c","#d62728"]}}
       }},
      {"data": {"name": "dia2"}, "mark": {"type": "point", "shape": "M0,-1L0.55,0L0,1L-0.55,0Z", "filled": true, "size": 400, "opacity": 0.5},
       "encoding": {
        "x": {"field": "x", "type": "quantitative", "scale": {"domain": [0, 11.07], "nice": false, "zero": false}, "axis": null},
        "y": {"field": "y", "type": "quantitative", "scale": {"domain": [0, 6.96], "nice": false, "zero": false}, "axis": null},
        "color": {"field": "c", "type": "nominal", "legend": null, "scale": {"domain": ["1","2","3","4"], "range": ["#1f77b4","#ff7f0e","#2ca02c","#d62728"]}}
       }},
      {"data": {"name": "means"}, "mark": {"type": "point", "shape": "M0,-1L0.2245,-0.309L0.951,-0.309L0.363,0.118L0.588,0.809L0,0.382L-0.588,0.809L-0.363,0.118L-0.951,-0.309L-0.2245,-0.309Z", "filled": true, "size": 230, "opacity": 1, "strokeWidth": 0},
       "encoding": {
        "x": {"field": "x", "type": "quantitative", "scale": {"domain": [0, 11.07], "nice": false, "zero": false}, "axis": null},
        "y": {"field": "y", "type": "quantitative", "scale": {"domain": [0, 6.96], "nice": false, "zero": false}, "axis": null},
        "color": {"field": "c", "type": "nominal", "legend": null, "scale": {"domain": ["1","2","3","4"], "range": ["#1f77b4","#ff7f0e","#2ca02c","#d62728"]}}
       }}
    ]
  },
  {
    "title": {"text": ["(ii.c) Decision boundaries", "(GLC)"]},
    "width": 369, "height": 232,
    "layer": [
      {"data": {"name": "reg2"}, "mark": {"type": "area", "opacity": 1, "strokeWidth": 0.8, "clip": true},
       "encoding": {
        "x": {"field": "x", "type": "quantitative", "scale": {"domain": [0, 11.07], "nice": false, "zero": false}, "axis": null},
        "y": {"field": "lo", "type": "quantitative", "stack": null, "scale": {"domain": [0, 6.96], "nice": false, "zero": false}, "axis": null},
        "y2": {"field": "hi"},
        "color": {"field": "r", "type": "nominal", "legend": null, "scale": {"domain": ["1","2","3","4"], "range": ["#b1cfe5","#ffd2ab","#b5deb5","#f1b3b4"]}},
        "stroke": {"field": "r", "type": "nominal", "legend": null, "scale": {"domain": ["1","2","3","4"], "range": ["#b1cfe5","#ffd2ab","#b5deb5","#f1b3b4"]}}
       }}
    ]
  },
  {
    "title": {"text": ["(iii.a) Training samples", "with explicit noise"]},
    "width": 369, "height": 232,
    "layer": [
      {"data": {"name": "noise"}, "mark": {"type": "point", "filled": true, "fillOpacity": 1, "strokeOpacity": 0.6, "strokeWidth": 1, "clip": true},
       "encoding": {
        "x": {"field": "cx", "type": "quantitative", "scale": {"domain": [0, 11.07], "nice": false, "zero": false}, "axis": null},
        "y": {"field": "cy", "type": "quantitative", "scale": {"domain": [0, 6.96], "nice": false, "zero": false}, "axis": null},
        "size": {"field": "a", "type": "quantitative", "scale": {"type": "pow", "exponent": 2, "domain": [0, 1], "range": [0, 4444.4], "clamp": false}, "legend": null},
        "shape": {"field": "shp", "type": "nominal", "legend": null, "scale": {"domain": ["r13","r15","r30","r45","r50","r55","r60","r70","r75","r90"], "range": ["M-1,0C-1,-0.0718,-0.5523,-0.13,0,-0.13C0.5523,-0.13,1,-0.0718,1,0C1,0.0718,0.5523,0.13,0,0.13C-0.5523,0.13,-1,0.0718,-1,0Z","M-1,0C-1,-0.0828,-0.5523,-0.15,0,-0.15C0.5523,-0.15,1,-0.0828,1,0C1,0.0828,0.5523,0.15,0,0.15C-0.5523,0.15,-1,0.0828,-1,0Z","M-1,0C-1,-0.1657,-0.5523,-0.3,0,-0.3C0.5523,-0.3,1,-0.1657,1,0C1,0.1657,0.5523,0.3,0,0.3C-0.5523,0.3,-1,0.1657,-1,0Z","M-1,0C-1,-0.2485,-0.5523,-0.45,0,-0.45C0.5523,-0.45,1,-0.2485,1,0C1,0.2485,0.5523,0.45,0,0.45C-0.5523,0.45,-1,0.2485,-1,0Z","M-1,0C-1,-0.2762,-0.5523,-0.5,0,-0.5C0.5523,-0.5,1,-0.2762,1,0C1,0.2762,0.5523,0.5,0,0.5C-0.5523,0.5,-1,0.2762,-1,0Z","M-1,0C-1,-0.3038,-0.5523,-0.55,0,-0.55C0.5523,-0.55,1,-0.3038,1,0C1,0.3038,0.5523,0.55,0,0.55C-0.5523,0.55,-1,0.3038,-1,0Z","M-1,0C-1,-0.3314,-0.5523,-0.6,0,-0.6C0.5523,-0.6,1,-0.3314,1,0C1,0.3314,0.5523,0.6,0,0.6C-0.5523,0.6,-1,0.3314,-1,0Z","M-1,0C-1,-0.3866,-0.5523,-0.7,0,-0.7C0.5523,-0.7,1,-0.3866,1,0C1,0.3866,0.5523,0.7,0,0.7C-0.5523,0.7,-1,0.3866,-1,0Z","M-1,0C-1,-0.4142,-0.5523,-0.75,0,-0.75C0.5523,-0.75,1,-0.4142,1,0C1,0.4142,0.5523,0.75,0,0.75C-0.5523,0.75,-1,0.4142,-1,0Z","M-1,0C-1,-0.4971,-0.5523,-0.9,0,-0.9C0.5523,-0.9,1,-0.4971,1,0C1,0.4971,0.5523,0.9,0,0.9C-0.5523,0.9,-1,0.4971,-1,0Z"]}},
        "angle": {"field": "ang", "type": "quantitative", "scale": {"domain": [-180, 180], "range": [180, -180]}},
        "opacity": {"field": "a", "type": "quantitative", "legend": null, "scale": {"domain": [0.5, 2.5], "range": [0.3, 0.1], "clamp": true}},
        "color": {"field": "c", "type": "nominal", "legend": null, "scale": {"domain": ["1","2","3","4"], "range": ["#1f77b4","#ff7f0e","#2ca02c","#d62728"]}},
        "stroke": {"field": "c", "type": "nominal", "legend": null, "scale": {"domain": ["1","2","3","4"], "range": ["#1f77b4","#ff7f0e","#2ca02c","#d62728"]}}
       }},
      {"data": {"name": "truth"}, "mark": {"type": "point", "filled": false, "strokeWidth": 2, "opacity": 1, "clip": true},
       "encoding": {
        "x": {"field": "cx", "type": "quantitative", "scale": {"domain": [0, 11.07], "nice": false, "zero": false}, "axis": null},
        "y": {"field": "cy", "type": "quantitative", "scale": {"domain": [0, 6.96], "nice": false, "zero": false}, "axis": null},
        "size": {"field": "a", "type": "quantitative", "scale": {"type": "pow", "exponent": 2, "domain": [0, 1], "range": [0, 4444.4], "clamp": false}, "legend": null},
        "shape": {"field": "shp", "type": "nominal", "legend": null, "scale": {"domain": ["r13","r15","r30","r45","r50","r55","r60","r70","r75","r90"], "range": ["M-1,0C-1,-0.0718,-0.5523,-0.13,0,-0.13C0.5523,-0.13,1,-0.0718,1,0C1,0.0718,0.5523,0.13,0,0.13C-0.5523,0.13,-1,0.0718,-1,0Z","M-1,0C-1,-0.0828,-0.5523,-0.15,0,-0.15C0.5523,-0.15,1,-0.0828,1,0C1,0.0828,0.5523,0.15,0,0.15C-0.5523,0.15,-1,0.0828,-1,0Z","M-1,0C-1,-0.1657,-0.5523,-0.3,0,-0.3C0.5523,-0.3,1,-0.1657,1,0C1,0.1657,0.5523,0.3,0,0.3C-0.5523,0.3,-1,0.1657,-1,0Z","M-1,0C-1,-0.2485,-0.5523,-0.45,0,-0.45C0.5523,-0.45,1,-0.2485,1,0C1,0.2485,0.5523,0.45,0,0.45C-0.5523,0.45,-1,0.2485,-1,0Z","M-1,0C-1,-0.2762,-0.5523,-0.5,0,-0.5C0.5523,-0.5,1,-0.2762,1,0C1,0.2762,0.5523,0.5,0,0.5C-0.5523,0.5,-1,0.2762,-1,0Z","M-1,0C-1,-0.3038,-0.5523,-0.55,0,-0.55C0.5523,-0.55,1,-0.3038,1,0C1,0.3038,0.5523,0.55,0,0.55C-0.5523,0.55,-1,0.3038,-1,0Z","M-1,0C-1,-0.3314,-0.5523,-0.6,0,-0.6C0.5523,-0.6,1,-0.3314,1,0C1,0.3314,0.5523,0.6,0,0.6C-0.5523,0.6,-1,0.3314,-1,0Z","M-1,0C-1,-0.3866,-0.5523,-0.7,0,-0.7C0.5523,-0.7,1,-0.3866,1,0C1,0.3866,0.5523,0.7,0,0.7C-0.5523,0.7,-1,0.3866,-1,0Z","M-1,0C-1,-0.4142,-0.5523,-0.75,0,-0.75C0.5523,-0.75,1,-0.4142,1,0C1,0.4142,0.5523,0.75,0,0.75C-0.5523,0.75,-1,0.4142,-1,0Z","M-1,0C-1,-0.4971,-0.5523,-0.9,0,-0.9C0.5523,-0.9,1,-0.4971,1,0C1,0.4971,0.5523,0.9,0,0.9C-0.5523,0.9,-1,0.4971,-1,0Z"]}},
        "angle": {"field": "ang", "type": "quantitative", "scale": {"domain": [-180, 180], "range": [180, -180]}},
        "color": {"field": "c", "type": "nominal", "legend": null, "scale": {"domain": ["1","2","3","4"], "range": ["#1f77b4","#ff7f0e","#2ca02c","#d62728"]}}
       }},
      {"data": {"name": "noisy"}, "mark": {"type": "circle", "size": 32, "opacity": 1},
       "encoding": {
        "x": {"field": "x", "type": "quantitative", "scale": {"domain": [0, 11.07], "nice": false, "zero": false}, "axis": null},
        "y": {"field": "y", "type": "quantitative", "scale": {"domain": [0, 6.96], "nice": false, "zero": false}, "axis": null},
        "color": {"field": "c", "type": "nominal", "legend": null, "scale": {"domain": ["1","2","3","4"], "range": ["#1f77b4","#ff7f0e","#2ca02c","#d62728"]}}
       }},
      {"data": {"name": "means"}, "mark": {"type": "point", "shape": "M0,-1L0.2245,-0.309L0.951,-0.309L0.363,0.118L0.588,0.809L0,0.382L-0.588,0.809L-0.363,0.118L-0.951,-0.309L-0.2245,-0.309Z", "filled": true, "size": 230, "opacity": 1, "strokeWidth": 0},
       "encoding": {
        "x": {"field": "x", "type": "quantitative", "scale": {"domain": [0, 11.07], "nice": false, "zero": false}, "axis": null},
        "y": {"field": "y", "type": "quantitative", "scale": {"domain": [0, 6.96], "nice": false, "zero": false}, "axis": null},
        "color": {"field": "c", "type": "nominal", "legend": null, "scale": {"domain": ["1","2","3","4"], "range": ["#1f77b4","#ff7f0e","#2ca02c","#d62728"]}}
       }}
    ]
  },
  {
    "title": {"text": ["(iii.b) GLCU", "on noisy distributions"]},
    "width": 369, "height": 232,
    "layer": [
      {"data": {"name": "truth"}, "mark": {"type": "point", "filled": false, "strokeWidth": 2, "opacity": 1, "clip": true},
       "encoding": {
        "x": {"field": "cx", "type": "quantitative", "scale": {"domain": [0, 11.07], "nice": false, "zero": false}, "axis": null},
        "y": {"field": "cy", "type": "quantitative", "scale": {"domain": [0, 6.96], "nice": false, "zero": false}, "axis": null},
        "size": {"field": "a", "type": "quantitative", "scale": {"type": "pow", "exponent": 2, "domain": [0, 1], "range": [0, 4444.4], "clamp": false}, "legend": null},
        "shape": {"field": "shp", "type": "nominal", "legend": null, "scale": {"domain": ["r13","r15","r30","r45","r50","r55","r60","r70","r75","r90"], "range": ["M-1,0C-1,-0.0718,-0.5523,-0.13,0,-0.13C0.5523,-0.13,1,-0.0718,1,0C1,0.0718,0.5523,0.13,0,0.13C-0.5523,0.13,-1,0.0718,-1,0Z","M-1,0C-1,-0.0828,-0.5523,-0.15,0,-0.15C0.5523,-0.15,1,-0.0828,1,0C1,0.0828,0.5523,0.15,0,0.15C-0.5523,0.15,-1,0.0828,-1,0Z","M-1,0C-1,-0.1657,-0.5523,-0.3,0,-0.3C0.5523,-0.3,1,-0.1657,1,0C1,0.1657,0.5523,0.3,0,0.3C-0.5523,0.3,-1,0.1657,-1,0Z","M-1,0C-1,-0.2485,-0.5523,-0.45,0,-0.45C0.5523,-0.45,1,-0.2485,1,0C1,0.2485,0.5523,0.45,0,0.45C-0.5523,0.45,-1,0.2485,-1,0Z","M-1,0C-1,-0.2762,-0.5523,-0.5,0,-0.5C0.5523,-0.5,1,-0.2762,1,0C1,0.2762,0.5523,0.5,0,0.5C-0.5523,0.5,-1,0.2762,-1,0Z","M-1,0C-1,-0.3038,-0.5523,-0.55,0,-0.55C0.5523,-0.55,1,-0.3038,1,0C1,0.3038,0.5523,0.55,0,0.55C-0.5523,0.55,-1,0.3038,-1,0Z","M-1,0C-1,-0.3314,-0.5523,-0.6,0,-0.6C0.5523,-0.6,1,-0.3314,1,0C1,0.3314,0.5523,0.6,0,0.6C-0.5523,0.6,-1,0.3314,-1,0Z","M-1,0C-1,-0.3866,-0.5523,-0.7,0,-0.7C0.5523,-0.7,1,-0.3866,1,0C1,0.3866,0.5523,0.7,0,0.7C-0.5523,0.7,-1,0.3866,-1,0Z","M-1,0C-1,-0.4142,-0.5523,-0.75,0,-0.75C0.5523,-0.75,1,-0.4142,1,0C1,0.4142,0.5523,0.75,0,0.75C-0.5523,0.75,-1,0.4142,-1,0Z","M-1,0C-1,-0.4971,-0.5523,-0.9,0,-0.9C0.5523,-0.9,1,-0.4971,1,0C1,0.4971,0.5523,0.9,0,0.9C-0.5523,0.9,-1,0.4971,-1,0Z"]}},
        "angle": {"field": "ang", "type": "quantitative", "scale": {"domain": [-180, 180], "range": [180, -180]}},
        "color": {"field": "c", "type": "nominal", "legend": null, "scale": {"domain": ["1","2","3","4"], "range": ["#1f77b4","#ff7f0e","#2ca02c","#d62728"]}}
       }},
      {"data": {"name": "est3"}, "mark": {"type": "point", "filled": true, "opacity": 1, "fillOpacity": 0.2, "strokeOpacity": 0.2, "strokeWidth": 2.5, "clip": true},
       "encoding": {
        "x": {"field": "cx", "type": "quantitative", "scale": {"domain": [0, 11.07], "nice": false, "zero": false}, "axis": null},
        "y": {"field": "cy", "type": "quantitative", "scale": {"domain": [0, 6.96], "nice": false, "zero": false}, "axis": null},
        "size": {"field": "a", "type": "quantitative", "scale": {"type": "pow", "exponent": 2, "domain": [0, 1], "range": [0, 4444.4], "clamp": false}, "legend": null},
        "shape": {"field": "shp", "type": "nominal", "legend": null, "scale": {"domain": ["r13","r15","r30","r45","r50","r55","r60","r70","r75","r90"], "range": ["M-1,0C-1,-0.0718,-0.5523,-0.13,0,-0.13C0.5523,-0.13,1,-0.0718,1,0C1,0.0718,0.5523,0.13,0,0.13C-0.5523,0.13,-1,0.0718,-1,0Z","M-1,0C-1,-0.0828,-0.5523,-0.15,0,-0.15C0.5523,-0.15,1,-0.0828,1,0C1,0.0828,0.5523,0.15,0,0.15C-0.5523,0.15,-1,0.0828,-1,0Z","M-1,0C-1,-0.1657,-0.5523,-0.3,0,-0.3C0.5523,-0.3,1,-0.1657,1,0C1,0.1657,0.5523,0.3,0,0.3C-0.5523,0.3,-1,0.1657,-1,0Z","M-1,0C-1,-0.2485,-0.5523,-0.45,0,-0.45C0.5523,-0.45,1,-0.2485,1,0C1,0.2485,0.5523,0.45,0,0.45C-0.5523,0.45,-1,0.2485,-1,0Z","M-1,0C-1,-0.2762,-0.5523,-0.5,0,-0.5C0.5523,-0.5,1,-0.2762,1,0C1,0.2762,0.5523,0.5,0,0.5C-0.5523,0.5,-1,0.2762,-1,0Z","M-1,0C-1,-0.3038,-0.5523,-0.55,0,-0.55C0.5523,-0.55,1,-0.3038,1,0C1,0.3038,0.5523,0.55,0,0.55C-0.5523,0.55,-1,0.3038,-1,0Z","M-1,0C-1,-0.3314,-0.5523,-0.6,0,-0.6C0.5523,-0.6,1,-0.3314,1,0C1,0.3314,0.5523,0.6,0,0.6C-0.5523,0.6,-1,0.3314,-1,0Z","M-1,0C-1,-0.3866,-0.5523,-0.7,0,-0.7C0.5523,-0.7,1,-0.3866,1,0C1,0.3866,0.5523,0.7,0,0.7C-0.5523,0.7,-1,0.3866,-1,0Z","M-1,0C-1,-0.4142,-0.5523,-0.75,0,-0.75C0.5523,-0.75,1,-0.4142,1,0C1,0.4142,0.5523,0.75,0,0.75C-0.5523,0.75,-1,0.4142,-1,0Z","M-1,0C-1,-0.4971,-0.5523,-0.9,0,-0.9C0.5523,-0.9,1,-0.4971,1,0C1,0.4971,0.5523,0.9,0,0.9C-0.5523,0.9,-1,0.4971,-1,0Z"]}},
        "angle": {"field": "ang", "type": "quantitative", "scale": {"domain": [-180, 180], "range": [180, -180]}},
        "color": {"field": "c", "type": "nominal", "legend": null, "scale": {"domain": ["1","2","3","4"], "range": ["#1f77b4","#ff7f0e","#2ca02c","#d62728"]}},
        "stroke": {"field": "c", "type": "nominal", "legend": null, "scale": {"domain": ["1","2","3","4"], "range": ["#1f77b4","#ff7f0e","#2ca02c","#d62728"]}}
       }},
      {"data": {"name": "dia3"}, "mark": {"type": "point", "shape": "M0,-1L0.55,0L0,1L-0.55,0Z", "filled": true, "size": 400, "opacity": 0.5},
       "encoding": {
        "x": {"field": "x", "type": "quantitative", "scale": {"domain": [0, 11.07], "nice": false, "zero": false}, "axis": null},
        "y": {"field": "y", "type": "quantitative", "scale": {"domain": [0, 6.96], "nice": false, "zero": false}, "axis": null},
        "color": {"field": "c", "type": "nominal", "legend": null, "scale": {"domain": ["1","2","3","4"], "range": ["#1f77b4","#ff7f0e","#2ca02c","#d62728"]}}
       }},
      {"data": {"name": "means"}, "mark": {"type": "point", "shape": "M0,-1L0.2245,-0.309L0.951,-0.309L0.363,0.118L0.588,0.809L0,0.382L-0.588,0.809L-0.363,0.118L-0.951,-0.309L-0.2245,-0.309Z", "filled": true, "size": 230, "opacity": 1, "strokeWidth": 0},
       "encoding": {
        "x": {"field": "x", "type": "quantitative", "scale": {"domain": [0, 11.07], "nice": false, "zero": false}, "axis": null},
        "y": {"field": "y", "type": "quantitative", "scale": {"domain": [0, 6.96], "nice": false, "zero": false}, "axis": null},
        "color": {"field": "c", "type": "nominal", "legend": null, "scale": {"domain": ["1","2","3","4"], "range": ["#1f77b4","#ff7f0e","#2ca02c","#d62728"]}}
       }}
    ]
  },
  {
    "title": {"text": ["(iii.c) Decision boundaries", "(GLCU)"]},
    "width": 369, "height": 232,
    "layer": [
      {"data": {"name": "reg3"}, "mark": {"type": "area", "opacity": 1, "strokeWidth": 0.8, "clip": true},
       "encoding": {
        "x": {"field": "x", "type": "quantitative", "scale": {"domain": [0, 11.07], "nice": false, "zero": false}, "axis": null},
        "y": {"field": "lo", "type": "quantitative", "stack": null, "scale": {"domain": [0, 6.96], "nice": false, "zero": false}, "axis": null},
        "y2": {"field": "hi"},
        "color": {"field": "r", "type": "nominal", "legend": null, "scale": {"domain": ["1","2","3","4"], "range": ["#b1cfe5","#ffd2ab","#b5deb5","#f1b3b4"]}},
        "stroke": {"field": "r", "type": "nominal", "legend": null, "scale": {"domain": ["1","2","3","4"], "range": ["#b1cfe5","#ffd2ab","#b5deb5","#f1b3b4"]}}
       }}
    ]
  }
]
}
